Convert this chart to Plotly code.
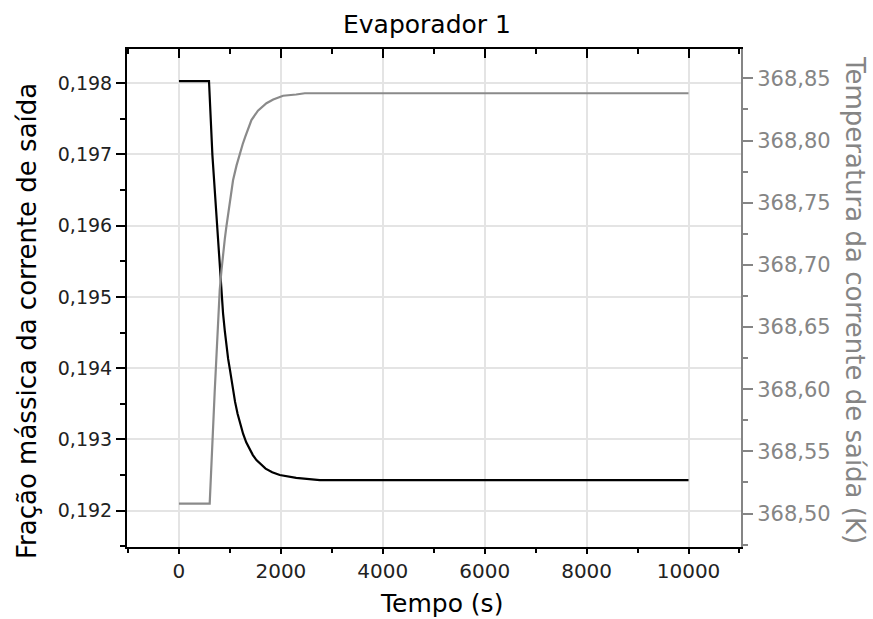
import plotly.graph_objects as go

# ---- data ----
t_frac = [0, 589, 656, 747, 800, 830, 865, 900, 931, 965, 1000, 1061, 1100, 1150, 1200, 1258, 1320, 1380, 1450,
          1520, 1600, 1700, 1830, 1978, 2300, 2765, 10000]
frac = [0.19803, 0.19803, 0.19699, 0.19599, 0.19540, 0.19510, 0.19477, 0.19452, 0.19430, 0.19413, 0.19398, 0.19369,
        0.19353, 0.19336, 0.19321, 0.19308, 0.19296, 0.19287, 0.19278, 0.19271, 0.19265, 0.19259, 0.19254,
        0.19250, 0.19246, 0.19243, 0.19243]

t_temp = [0, 603, 700, 800, 835, 865, 900, 931, 1000, 1061, 1130, 1193, 1250, 1300, 1360, 1422, 1550, 1717, 1850,
          2043, 2300, 2470, 10000]
temp = [368.508, 368.508, 368.597, 368.680, 368.696, 368.709, 368.721, 368.731, 368.752, 368.768, 368.780,
        368.790, 368.797, 368.803, 368.810, 368.8165, 368.824, 368.830, 368.833, 368.836, 368.837, 368.838, 368.838]

x_ticks = [0, 2000, 4000, 6000, 8000, 10000]
y_ticks = [0.192, 0.193, 0.194, 0.195, 0.196, 0.197, 0.198]
y2_ticks = [368.50, 368.55, 368.60, 368.65, 368.70, 368.75, 368.80, 368.85]

title = "Evaporador 1"
x_title = "Tempo (s)"
y_title = "Fração mássica da corrente de saída"
y2_title = "Temperatura da corrente de saída (K)"

FONT = "DejaVu Sans"
GREY = "#858585"

fig = go.Figure()
fig.add_trace(go.Scatter(x=t_frac, y=frac, mode="lines", line=dict(color="black", width=2.2),
                         xaxis="x", yaxis="y", showlegend=False))
fig.add_trace(go.Scatter(x=t_temp, y=temp, mode="lines", line=dict(color="#8a8a8a", width=2.2),
                         xaxis="x", yaxis="y2", showlegend=False))
# helper for top mirrored axis
fig.add_trace(go.Scatter(x=t_frac, y=frac, mode="lines", line=dict(width=0), opacity=0,
                         xaxis="x2", yaxis="y", showlegend=False, hoverinfo="skip"))

xr = [-1020, 11030]
fig.update_layout(
    width=873, height=619,
    margin=dict(l=127, r=132, t=49, b=72),
    paper_bgcolor="white", plot_bgcolor="white",
    separators=",.",
    font=dict(family=FONT, size=20, color="black"),
    xaxis=dict(range=xr, tickvals=x_ticks, tickformat="d", ticks="outside", ticklen=5, tickwidth=2,
               tickcolor="black", showline=True, linecolor="black", linewidth=2,
               showgrid=True, gridcolor="#e4e4e4", gridwidth=1.5, zeroline=False,
               minor=dict(dtick=1000, tick0=0, ticks="outside", ticklen=4, tickwidth=2, tickcolor="black", showgrid=False),
               tickfont=dict(size=20, color="#222")),
    xaxis2=dict(range=xr, overlaying="x", side="top", anchor="y", tickvals=x_ticks, showticklabels=False,
                ticks="inside", ticklen=9, tickwidth=2, tickcolor="black", showline=True, linecolor="black",
                linewidth=2, showgrid=False, zeroline=False,
                minor=dict(dtick=1000, tick0=0, ticks="inside", ticklen=5, tickwidth=2, tickcolor="black", showgrid=False)),
    yaxis=dict(range=[0.19149, 0.19848], tickvals=y_ticks, tickformat=".3f", ticks="outside", ticklen=9,
               tickwidth=2, tickcolor="black", showline=True, linecolor="black", linewidth=2,
               showgrid=True, gridcolor="#e4e4e4", gridwidth=1.5, zeroline=False,
               minor=dict(dtick=0.0005, tick0=0.192, ticks="outside", ticklen=5, tickwidth=2, tickcolor="black", showgrid=False),
               tickfont=dict(size=19, color="#222")),
    yaxis2=dict(range=[368.4731, 368.8736], overlaying="y", side="right", anchor="x", tickvals=y2_ticks,
                tickformat=".2f", ticks="outside", ticklen=10, tickwidth=2, tickcolor=GREY,
                showline=True, linecolor=GREY, linewidth=2, showgrid=False, zeroline=False,
                minor=dict(dtick=0.025, tick0=368.5, ticks="outside", ticklen=5, tickwidth=2, tickcolor=GREY, showgrid=False),
                tickfont=dict(size=21, color=GREY)),
)

# annotations placed by pixel centre
L, R, T, B = 127, 873 - 132, 49, 619 - 72
def ann(text, px, py, size, angle=0, color="black"):
    return dict(text=text, x=(px - L) / (R - L), y=(B - py) / (B - T), xref="paper", yref="paper",
                xanchor="center", yanchor="middle", showarrow=False, textangle=angle,
                font=dict(family=FONT, size=size, color=color))

fig.update_layout(annotations=[
    ann(title, 427, 24, 25),
    ann(x_title, 441, 603, 25),
    ann(y_title, 27, 321, 26, -90),
    ann(y2_title, 855, 300, 26, 90, GREY),
])

fig.write_html("out.html")
